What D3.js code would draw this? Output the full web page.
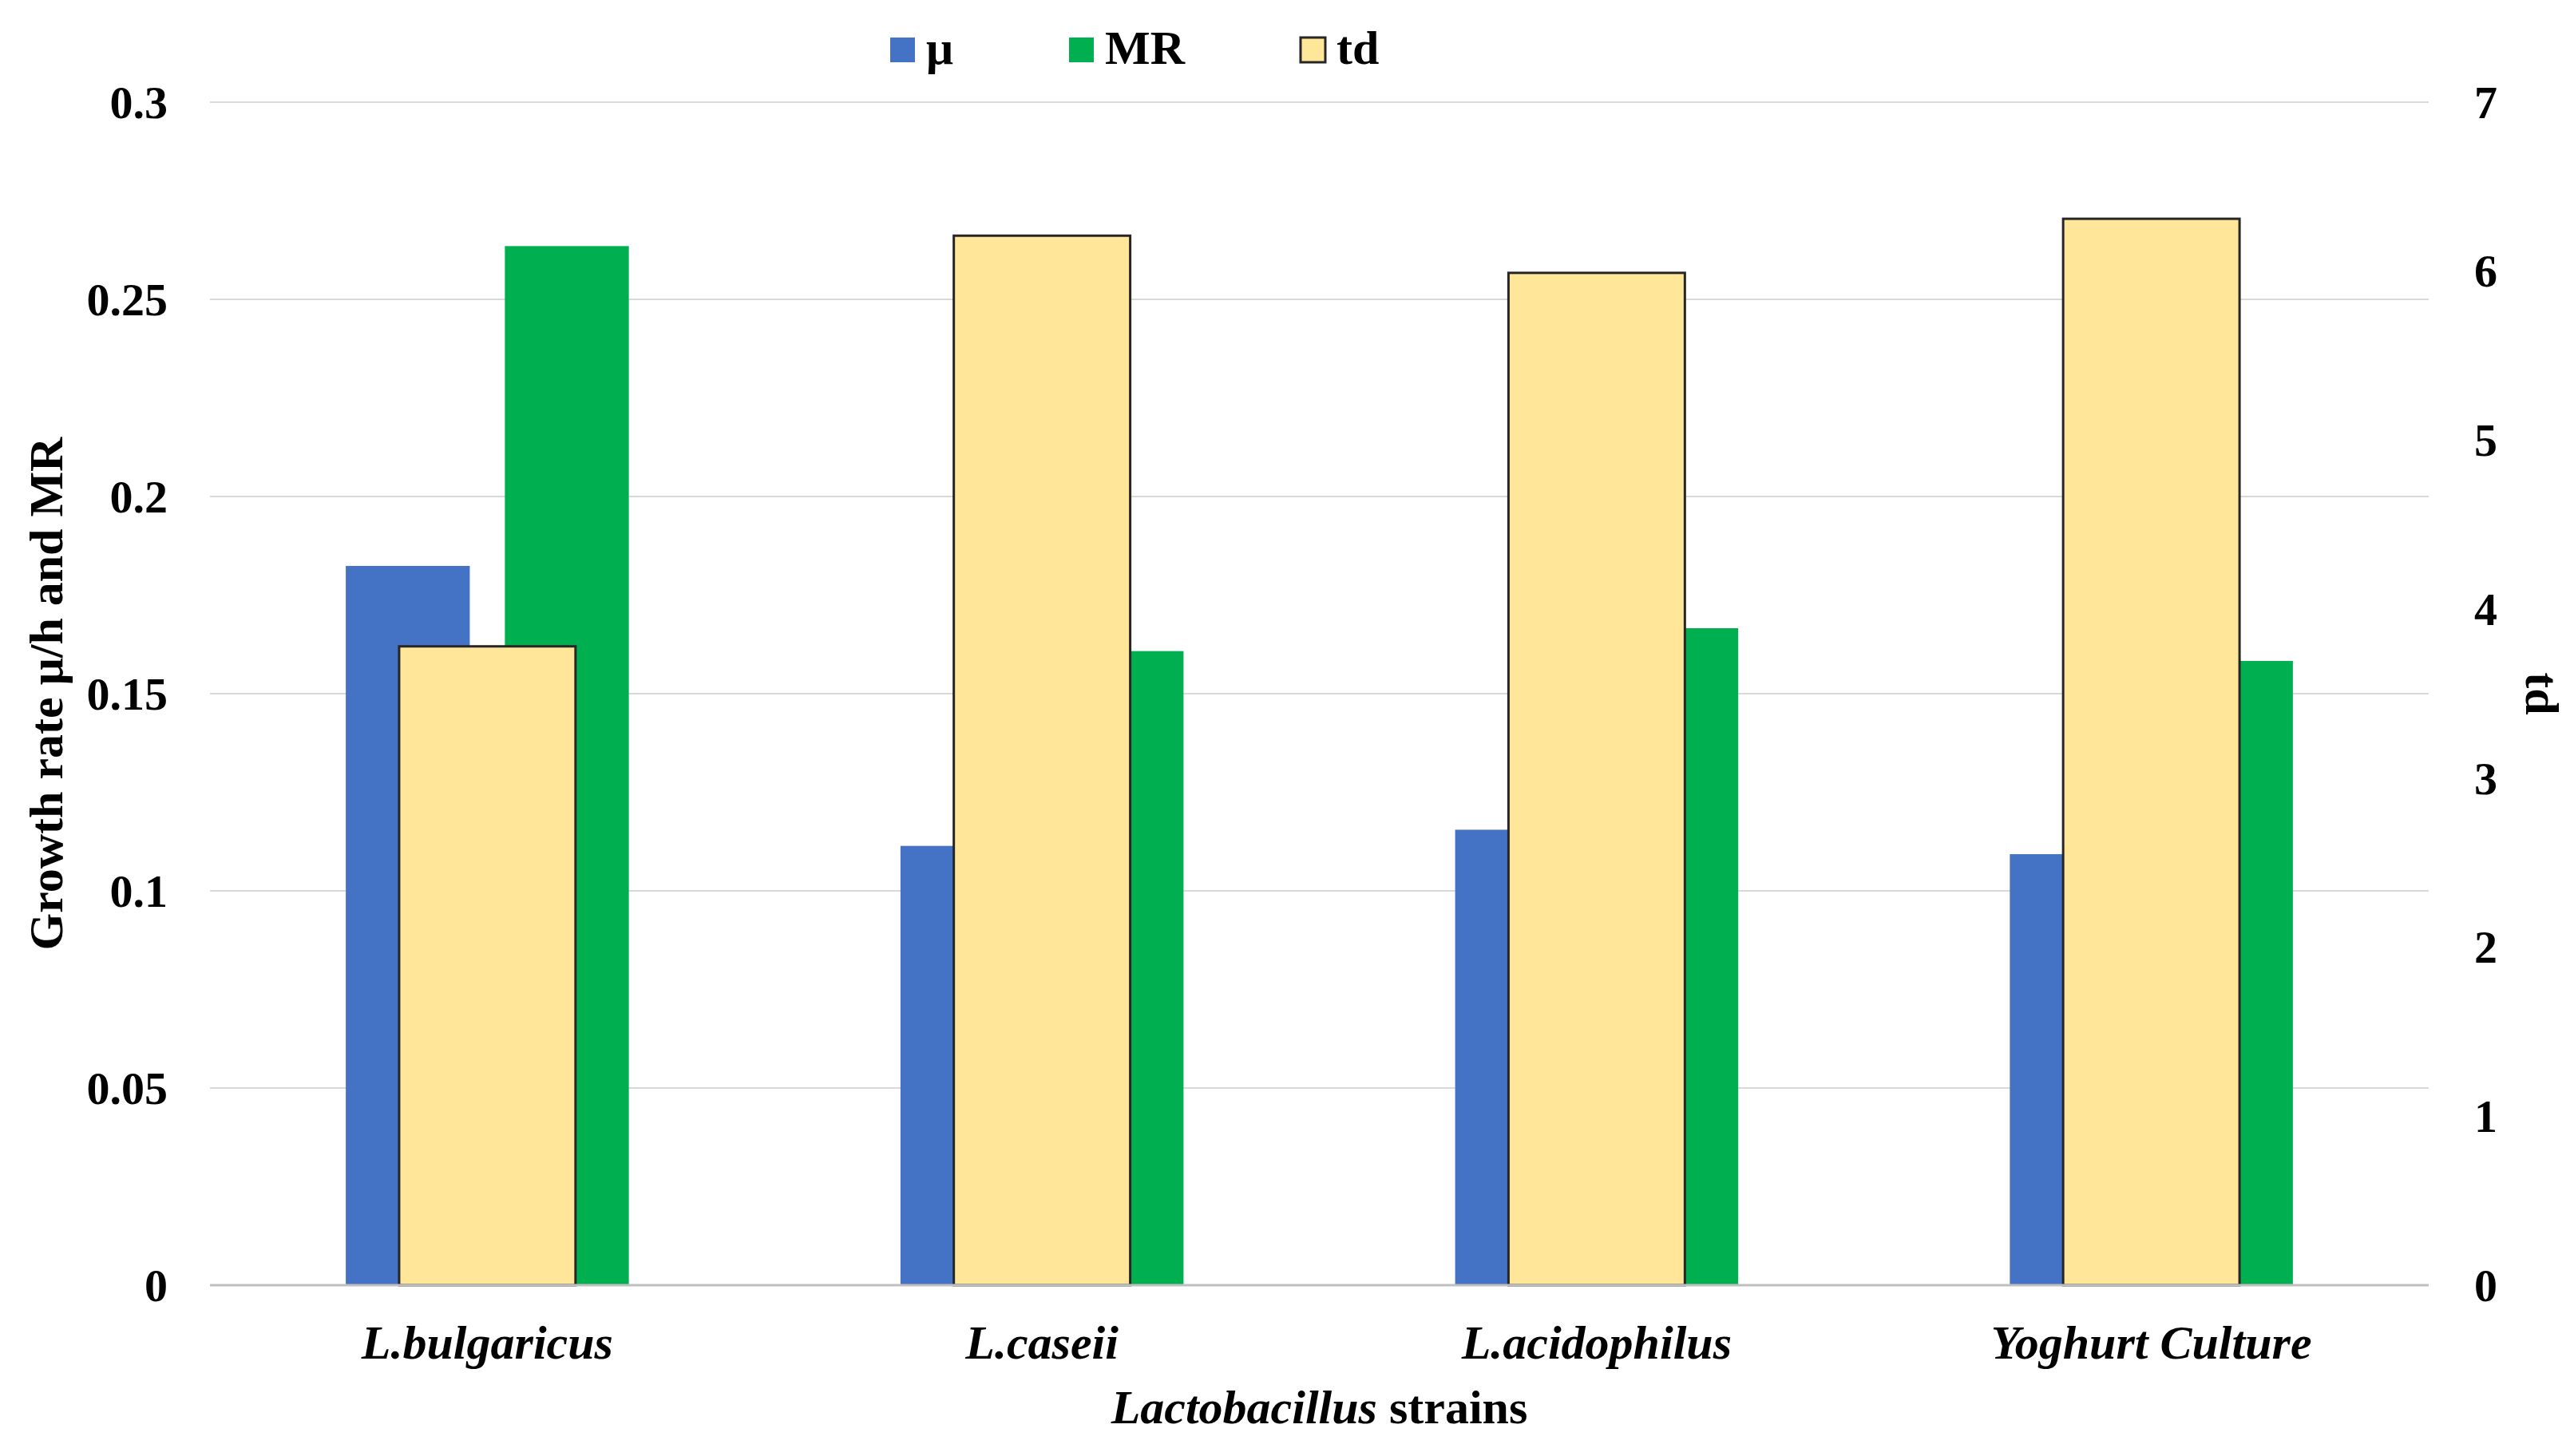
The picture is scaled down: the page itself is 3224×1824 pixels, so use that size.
<!DOCTYPE html>
<html lang="en">
<head>
  <meta charset="UTF-8">
  <script src="https://cdn.jsdelivr.net/npm/d3@7"></script>
  <title>Lactobacillus growth</title>
  <style>
    body { margin: 0; background: #fff; }
    text { font-family: "Liberation Serif", "Times New Roman", serif; font-weight: bold; fill: #000; }
  </style>
</head>
<body>
  <svg width="3224" height="1824"></svg>
  <script>
    var categories = ["L.bulgaricus", "L.caseii", "L.acidophilus", "Yoghurt Culture"];
    var mu = [0.1824, 0.1114, 0.1155, 0.1093];
    var mr = [0.2635, 0.1608, 0.1666, 0.1583];
    var td = [3.78, 6.21, 5.99, 6.31];
    var leftTicks = [0, 0.05, 0.1, 0.15, 0.2, 0.25, 0.3];
    var rightTicks = [0, 1, 2, 3, 4, 5, 6, 7];
    var seriesNames = ["μ", "MR", "td"];
    var colors = ["#4472C4", "#00B050", "#FFE699"];

    var svg = d3.select("svg");
    var plot = { left: 263, right: 3042, top: 128, bottom: 1610 };

    var x = d3.scaleBand().domain(categories).range([plot.left, plot.right]);
    var yL = d3.scaleLinear().domain([0, 0.3]).range([plot.bottom, plot.top]);
    var yR = d3.scaleLinear().domain([0, 7]).range([plot.bottom, plot.top]);

    var bw = x.bandwidth() * 0.2235;   // primary bar width
    var gap = x.bandwidth() * 0.0633;  // gap between mu and MR
    var tw = x.bandwidth() * 0.318;    // td bar width
    var cx = d => x(d) + x.bandwidth() / 2;

    // gridlines
    svg.append("g").selectAll("line")
      .data(leftTicks.slice(1))
      .enter().append("line")
      .attr("x1", plot.left).attr("x2", plot.right)
      .attr("y1", d => yL(d)).attr("y2", d => yL(d))
      .attr("stroke", "#D9D9D9").attr("stroke-width", 2);

    // mu and MR bars
    svg.append("g").selectAll("rect")
      .data(categories)
      .enter().append("rect")
      .attr("x", (d, i) => cx(d) - gap / 2 - bw)
      .attr("y", (d, i) => yL(mu[i]))
      .attr("width", bw)
      .attr("height", (d, i) => yL(0) - yL(mu[i]))
      .attr("fill", colors[0]);

    svg.append("g").selectAll("rect")
      .data(categories)
      .enter().append("rect")
      .attr("x", (d, i) => cx(d) + gap / 2)
      .attr("y", (d, i) => yL(mr[i]))
      .attr("width", bw)
      .attr("height", (d, i) => yL(0) - yL(mr[i]))
      .attr("fill", colors[1]);

    // td bars on the secondary axis
    svg.append("g").selectAll("rect")
      .data(categories)
      .enter().append("rect")
      .attr("x", d => cx(d) - tw / 2)
      .attr("y", (d, i) => yR(td[i]))
      .attr("width", tw)
      .attr("height", (d, i) => yR(0) - yR(td[i]))
      .attr("fill", colors[2])
      .attr("stroke", "#262626").attr("stroke-width", 3);

    // category axis line
    svg.append("line")
      .attr("x1", plot.left).attr("x2", plot.right)
      .attr("y1", plot.bottom).attr("y2", plot.bottom)
      .attr("stroke", "#BFBFBF").attr("stroke-width", 3);

    // left tick labels
    svg.append("g").selectAll("text")
      .data(leftTicks)
      .enter().append("text")
      .attr("x", 210).attr("y", d => yL(d))
      .attr("dy", "0.34em")
      .attr("text-anchor", "end")
      .style("font-size", "58px")
      .text(d => d3.format("")(d));

    // right tick labels
    svg.append("g").selectAll("text")
      .data(rightTicks)
      .enter().append("text")
      .attr("x", 3099).attr("y", d => yR(d))
      .attr("dy", "0.34em")
      .style("font-size", "58px")
      .text(d => d);

    // category labels
    svg.append("g").selectAll("text")
      .data(categories)
      .enter().append("text")
      .attr("x", d => cx(d)).attr("y", 1702)
      .attr("text-anchor", "middle")
      .style("font-size", "60px").style("font-style", "italic")
      .text(d => d);

    // axis titles
    var xt = svg.append("text")
      .attr("x", (plot.left + plot.right) / 2).attr("y", 1783)
      .attr("text-anchor", "middle")
      .style("font-size", "60px");
    xt.append("tspan").style("font-style", "italic").text("Lactobacillus");
    xt.append("tspan").text(" strains");

    svg.append("text")
      .attr("transform", "translate(78," + (plot.top + plot.bottom) / 2 + ") rotate(-90)")
      .attr("text-anchor", "middle")
      .style("font-size", "60px")
      .text("Growth rate μ/h and MR");

    svg.append("text")
      .attr("transform", "translate(3164," + (plot.top + plot.bottom) / 2 + ") rotate(90)")
      .attr("text-anchor", "middle")
      .style("font-size", "60px")
      .text("td");

    // legend
    var lx = 1115;
    seriesNames.forEach(function (name, i) {
      var g = svg.append("g").attr("transform", "translate(" + lx + ",47)");
      g.append("rect")
        .attr("width", 31).attr("height", 31)
        .attr("fill", colors[i])
        .attr("stroke", i == 2 ? "#262626" : "none")
        .attr("stroke-width", 3);
      var t = g.append("text")
        .attr("x", 45).attr("y", 33)
        .style("font-size", "60px")
        .text(name);
      lx += 45 + t.node().getComputedTextLength() + 145;
    });
  </script>
</body>
</html>
